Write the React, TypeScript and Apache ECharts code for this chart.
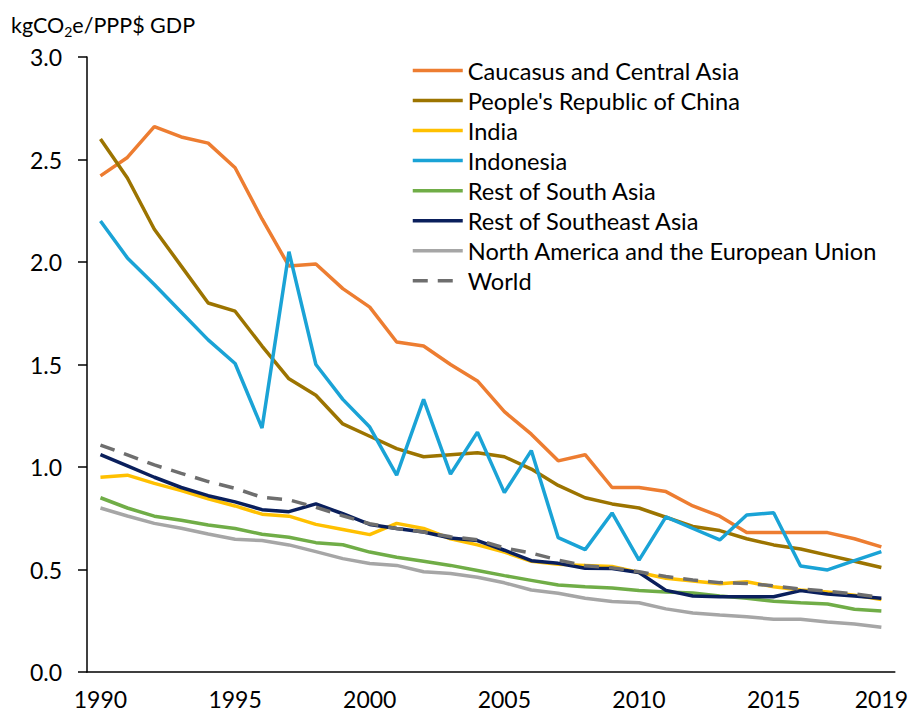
import React, { useEffect, useRef } from 'react';
import * as echarts from 'echarts';

const years = [
  '1990', '1991', '1992', '1993', '1994', '1995', '1996', '1997', '1998', '1999',
  '2000', '2001', '2002', '2003', '2004', '2005', '2006', '2007', '2008', '2009',
  '2010', '2011', '2012', '2013', '2014', '2015', '2016', '2017', '2018', '2019',
];

const caucasus = [2.42, 2.51, 2.66, 2.61, 2.58, 2.46, 2.21, 1.98, 1.99, 1.87, 1.78, 1.61, 1.59, 1.50, 1.42, 1.27, 1.16, 1.03, 1.06, 0.90, 0.90, 0.88, 0.81, 0.76, 0.68, 0.68, 0.68, 0.68, 0.65, 0.61];
const china = [2.60, 2.41, 2.16, 1.98, 1.80, 1.76, 1.59, 1.43, 1.35, 1.21, 1.15, 1.09, 1.05, 1.06, 1.07, 1.05, 0.99, 0.91, 0.85, 0.82, 0.80, 0.755, 0.71, 0.69, 0.65, 0.62, 0.60, 0.57, 0.54, 0.51];
const india = [0.95, 0.96, 0.92, 0.885, 0.845, 0.81, 0.77, 0.76, 0.72, 0.695, 0.67, 0.725, 0.70, 0.65, 0.62, 0.585, 0.54, 0.525, 0.52, 0.515, 0.485, 0.457, 0.444, 0.43, 0.44, 0.416, 0.40, 0.39, 0.375, 0.353];
const indonesia = [2.20, 2.02, 1.89, 1.755, 1.62, 1.505, 1.19, 2.05, 1.50, 1.33, 1.195, 0.96, 1.33, 0.965, 1.17, 0.875, 1.08, 0.655, 0.597, 0.776, 0.546, 0.757, 0.70, 0.644, 0.766, 0.777, 0.517, 0.498, 0.543, 0.587];
const restSouthAsia = [0.85, 0.80, 0.76, 0.74, 0.717, 0.70, 0.672, 0.657, 0.631, 0.621, 0.585, 0.56, 0.54, 0.52, 0.495, 0.47, 0.447, 0.424, 0.416, 0.41, 0.397, 0.39, 0.385, 0.371, 0.36, 0.345, 0.338, 0.332, 0.306, 0.298];
const restSoutheastAsia = [1.06, 1.005, 0.95, 0.90, 0.86, 0.83, 0.792, 0.782, 0.82, 0.772, 0.72, 0.70, 0.683, 0.654, 0.641, 0.594, 0.543, 0.530, 0.506, 0.505, 0.485, 0.398, 0.371, 0.367, 0.367, 0.367, 0.397, 0.38, 0.371, 0.36];
const northAmericaEU = [0.80, 0.761, 0.725, 0.701, 0.673, 0.648, 0.641, 0.620, 0.587, 0.553, 0.529, 0.52, 0.489, 0.481, 0.462, 0.435, 0.40, 0.384, 0.36, 0.344, 0.338, 0.308, 0.288, 0.278, 0.27, 0.257, 0.257, 0.244, 0.234, 0.218];
const world = [1.107, 1.059, 1.01, 0.969, 0.929, 0.896, 0.852, 0.84, 0.804, 0.762, 0.723, 0.70, 0.683, 0.66, 0.645, 0.605, 0.58, 0.546, 0.518, 0.508, 0.489, 0.466, 0.449, 0.436, 0.432, 0.42, 0.405, 0.394, 0.381, 0.364];

const seriesNames = [
  'Caucasus and Central Asia',
  "People's Republic of China",
  'India',
  'Indonesia',
  'Rest of South Asia',
  'Rest of Southeast Asia',
  'North America and the European Union',
  'World',
];
const seriesData = [caucasus, china, india, indonesia, restSouthAsia, restSoutheastAsia, northAmericaEU, world];
const seriesColors = ['#ED7D31', '#9C7400', '#FFC000', '#1AA3D6', '#70AD47', '#0A1F5C', '#A6A6A6', '#6E6E6E'];

const FONT = 'Lato, "Noto Sans", sans-serif';
const FS = 23;

export default function App() {
  const ref = useRef<HTMLDivElement>(null);
  useEffect(() => {
    if (!ref.current) return;
    const chart = echarts.init(ref.current, null, { renderer: 'svg' });
    chart.setOption({
      animation: false,
      backgroundColor: '#ffffff',
      textStyle: { fontFamily: FONT },
      title: {
        text: '{a|kgCO}{s|2}{a|e/PPP$ GDP}',
        left: 11,
        top: 12,
        padding: 0,
        textStyle: {
          fontWeight: 'normal',
          rich: {
            a: { fontSize: 21.5, fontFamily: FONT, fontWeight: 'normal', color: '#000', lineHeight: 26 },
            s: { fontSize: 14, fontFamily: FONT, fontWeight: 'normal', color: '#000', lineHeight: 14, verticalAlign: 'bottom' },
          },
        },
      },
      legend: {
        orient: 'vertical',
        left: 411,
        top: 58.5,
        padding: 0,
        itemWidth: 50,
        itemHeight: 10,
        itemGap: 6.04,
        data: seriesNames,
        itemStyle: { opacity: 0 },
        lineStyle: { width: 3.5 },
        textStyle: { fontSize: 23.6, color: '#000', fontFamily: FONT, lineHeight: 23 },
      },
      grid: { left: 87, right: 14, top: 57, bottom: 42, containLabel: false },
      xAxis: {
        type: 'category',
        data: years,
        boundaryGap: true,
        axisLine: { lineStyle: { color: '#000', width: 1.5 } },
        axisTick: { show: false },
        axisLabel: {
          interval: (i: number) => i % 5 === 0 || i === years.length - 1,
          fontSize: FS,
          lineHeight: 20,
          color: '#000',
          fontFamily: FONT,
          margin: 17,
        },
        splitLine: { show: false },
      },
      yAxis: {
        type: 'value',
        min: 0,
        max: 3,
        interval: 0.5,
        axisLine: { show: true, lineStyle: { color: '#000', width: 1.5 } },
        axisTick: { show: true, inside: false, length: 9, lineStyle: { color: '#000', width: 1.5 } },
        axisLabel: {
          formatter: (v: number) => v.toFixed(1),
          fontSize: FS,
          color: '#000',
          fontFamily: FONT,
          margin: 25,
        },
        splitLine: { show: false },
      },
      series: seriesNames.map((name, i) => ({
        name,
        type: 'line',
        data: seriesData[i],
        symbol: 'none',
        showSymbol: false,
        color: seriesColors[i],
        lineStyle: {
          color: seriesColors[i],
          width: 3.5,
          type: name === 'World' ? [15, 10] : 'solid',
        },
        z: 2 + i,
      })),
    });
    return () => chart.dispose();
  }, []);
  return <div ref={ref} style={{ position: 'fixed', left: 0, top: 0, width: 911, height: 714 }} />;
}
